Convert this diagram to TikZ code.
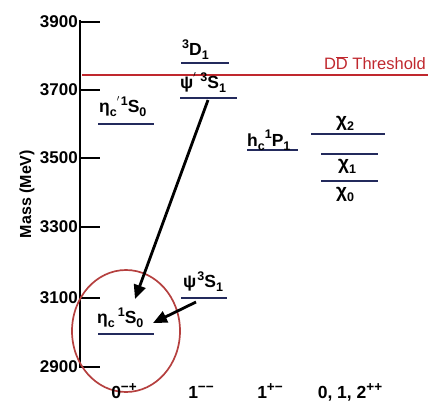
\documentclass[tikz,border=0pt]{standalone}
\usepackage{fontspec}
\setmainfont{Liberation Sans}
\usetikzlibrary{arrows.meta,shapes.geometric}
\definecolor{lvl}{HTML}{232A5C}
\definecolor{thr}{HTML}{C0282E}
\definecolor{circ}{HTML}{B5403F}
\newcommand{\lo}[1]{\raisebox{-4pt}{\fontsize{12.5}{12.5}\selectfont #1}}
\newcommand{\hi}[1]{\raisebox{7pt}{\fontsize{12.5}{12.5}\selectfont #1}}
\newcommand{\jhi}[1]{\raisebox{7pt}{\fontsize{13.5}{13.5}\selectfont #1}}
\tikzset{
  level/.style={draw=lvl, line width=1.4pt},
  lab/.style={inner sep=0pt, font=\bfseries\fontsize{17.5}{17.5}\selectfont},
  ticklab/.style={inner sep=0pt, anchor=east, font=\bfseries\fontsize{17}{17}\selectfont},
  jpc/.style={inner sep=0pt, anchor=base, font=\bfseries\fontsize{17.5}{17.5}\selectfont},
  trans/.style={draw=black, line width=2.8pt, -{Triangle[length=14pt,width=12pt]}},
}
\begin{document}
\begin{tikzpicture}[x=1pt,y=-1pt]
\useasboundingbox (0,0) rectangle (435,414);
% axis
\coordinate (ax0) at (80,20);
\coordinate (ax1) at (80,368);
\draw[line width=1.3pt] (ax0) -- (ax1);
\foreach \m/\yy in {3900/22,3700/90,3500/158,3300/227,3100/298,2900/367}{
  \draw[line width=1.3pt] (80,\yy) -- (100,\yy);
  \node[ticklab] at (78,\yy) {\m};
}
\node[rotate=90, inner sep=0pt, font=\bfseries\fontsize{16}{16}\selectfont] (ylab) at (27,194) {Mass (MeV)};
% threshold
\coordinate (t0) at (82,75);
\coordinate (t1) at (428,75);
\draw[thr, line width=1.4pt] (t0) -- (t1);
\node[thr, inner sep=0pt, anchor=base east, font=\fontsize{16.5}{16.5}\selectfont] (thrlab) at (426,70) {D$\overline{\mbox{D}}$ Threshold};
% levels
\coordinate (etap0) at (98,124); \coordinate (etap1) at (154,124);
\draw[level] (etap0) -- (etap1);
\node[lab, anchor=base west] (etaplab) at (99,113) {η\lo{c}\hi{$'$}\hspace{1pt}\hi{1}S\lo{0}};

\coordinate (d0) at (181,63); \coordinate (d1) at (229,63);
\draw[level] (d0) -- (d1);
\node[lab, anchor=base west] (dlab) at (182,56) {\hi{3}D\lo{1}};

\coordinate (psip0) at (180,98); \coordinate (psip1) at (237,98);
\draw[level] (psip0) -- (psip1);
\node[lab, anchor=base west] (psiplab) at (180,89) {ψ\hi{$'$}\hspace{4pt}\hi{3}S\lo{1}};

\coordinate (hc0) at (247,150); \coordinate (hc1) at (298,150);
\draw[level] (hc0) -- (hc1);
\node[lab, anchor=base west] (hclab) at (247,146) {h\lo{c}\hi{1}P\lo{1}};

\coordinate (c20) at (311,134); \coordinate (c21) at (385,134);
\draw[level] (c20) -- (c21);
\node[lab, anchor=base, font=\bfseries\fontsize{19}{19}\selectfont] (c2lab) at (345,127) {χ\lo{2}};

\coordinate (c10) at (321,154); \coordinate (c11) at (378,154);
\draw[level] (c10) -- (c11);
\node[lab, anchor=base, font=\bfseries\fontsize{19}{19}\selectfont] (c1lab) at (347,169) {χ\lo{1}};

\coordinate (c00) at (321,181); \coordinate (c01) at (378,181);
\draw[level] (c00) -- (c01);
\node[lab, anchor=base, font=\bfseries\fontsize{19}{19}\selectfont] (c0lab) at (345,197) {χ\lo{0}};

\coordinate (psi0) at (181,298); \coordinate (psi1) at (227,298);
\draw[level] (psi0) -- (psi1);
\node[lab, anchor=base west] (psilab) at (183,287) {ψ\hspace{1pt}\hi{3}S\lo{1}};

\coordinate (eta0) at (98,334); \coordinate (eta1) at (154,334);
\draw[level] (eta0) -- (eta1);
\node[lab, anchor=base west] (etalab) at (97,323) {η\lo{c}\hspace{3pt}\hi{1}S\lo{0}};

% circle
\node[draw=circ, line width=1.7pt, ellipse, minimum width=108pt, minimum height=122pt, inner sep=0pt] (ring) at (126,331) {};
% transitions
\coordinate (a1s) at (208,100); \coordinate (a1e) at (135,299);
\coordinate (a2s) at (196,302); \coordinate (a2e) at (153,323);
\draw[trans] (a1s) -- (a1e);
\draw[trans] (a2s) -- (a2e);
% JPC labels
\node[jpc] (j0) at (124,398) {0\jhi{−+}};
\node[jpc] (j1) at (201,398) {1\jhi{−−}};
\node[jpc] (j2) at (270,398) {1\jhi{+−}};
\node[jpc] (j3) at (350,398) {0, 1, 2\jhi{++}};
\end{tikzpicture}
\end{document}
